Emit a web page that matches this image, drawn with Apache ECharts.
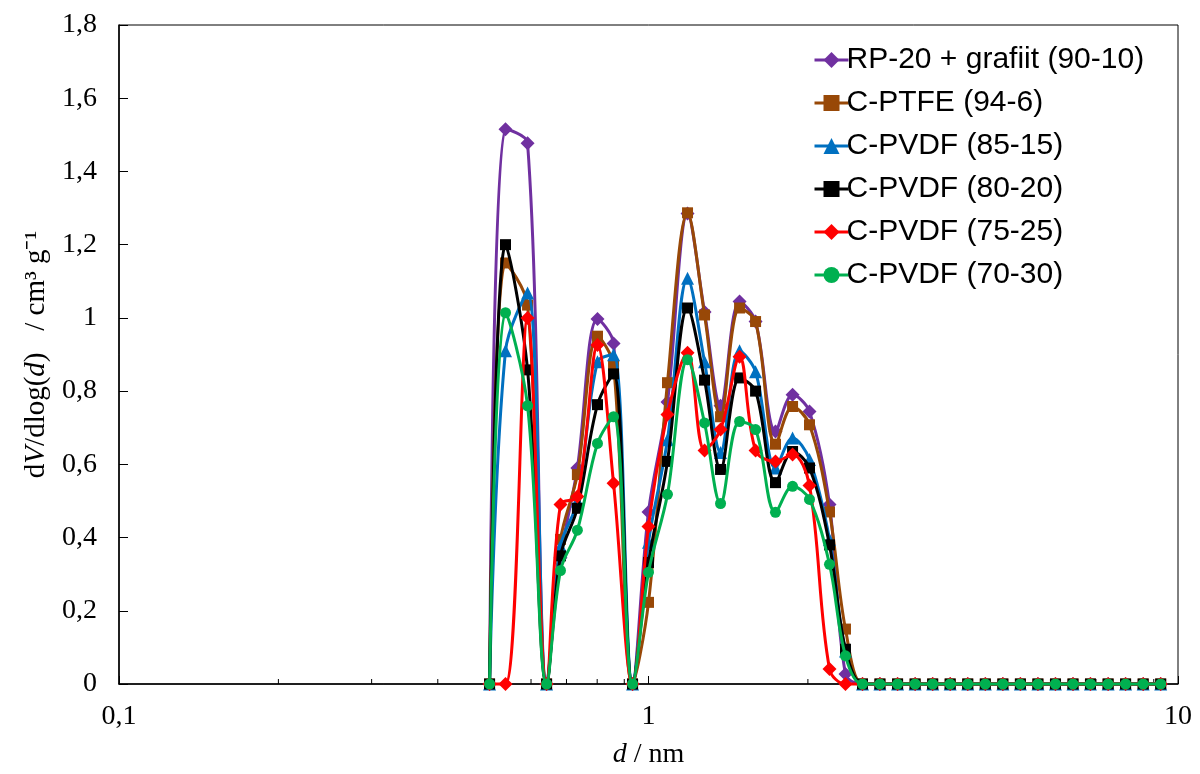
<!DOCTYPE html>
<html>
<head>
<meta charset="utf-8">
<title>Pore size distribution</title>
<script src="https://cdn.jsdelivr.net/npm/echarts@6/dist/echarts.min.js"></script>
<style>
  html, body { margin: 0; padding: 0; background: #fff; }
  #chart { width: 1200px; height: 774px; }
</style>
</head>
<body>
<div id="chart"></div>
<script>
// Pore diameter d / nm (shared by every sample)
const poreDiam = [
  0.501, 0.537, 0.591, 0.642, 0.682, 0.734, 0.801, 0.859, 0.933, 1.000,
  1.086, 1.185, 1.276, 1.368, 1.486, 1.593, 1.737, 1.871, 2.014, 2.197,
  2.355, 2.536, 2.736, 2.954, 3.188, 3.441, 3.713, 4.008, 4.326, 4.669,
  5.039, 5.438, 5.869, 6.334, 6.834, 7.379, 7.962, 8.594, 9.275
];

// dV/dlog(d) / cm3 g-1 for each electrode material
const rpGrafiit = [
  0, 1.515, 1.477, 0, 0.345, 0.59, 0.997, 0.93, 0, 0.47,
  0.77, 1.285, 1.016, 0.76, 1.045, 0.99, 0.69, 0.79, 0.744, 0.49,
  0.027, 0, 0, 0, 0, 0, 0, 0, 0, 0,
  0, 0, 0, 0, 0, 0, 0, 0, 0
];
const cPtfe94 = [
  0, 1.15, 1.035, 0, 0.395, 0.572, 0.95, 0.87, 0, 0.223,
  0.823, 1.287, 1.008, 0.73, 1.027, 0.99, 0.655, 0.758, 0.708, 0.47,
  0.15, 0, 0, 0, 0, 0, 0, 0, 0, 0,
  0, 0, 0, 0, 0, 0, 0, 0, 0
];
const cPvdf85 = [
  0, 0.91, 1.068, 0, 0.376, 0.5, 0.88, 0.899, 0, 0.387,
  0.667, 1.108, 0.88, 0.632, 0.91, 0.853, 0.59, 0.672, 0.613, 0.395,
  0.09, 0, 0, 0, 0, 0, 0, 0, 0, 0,
  0, 0, 0, 0, 0, 0, 0, 0, 0
];
const cPvdf80 = [
  0, 1.2, 0.858, 0, 0.35, 0.48, 0.763, 0.847, 0, 0.332,
  0.608, 1.027, 0.83, 0.586, 0.836, 0.80, 0.55, 0.635, 0.59, 0.38,
  0.095, 0, 0, 0, 0, 0, 0, 0, 0, 0,
  0, 0, 0, 0, 0, 0, 0, 0, 0
];
const cPvdf75 = [
  0, 0, 1.0, 0, 0.49, 0.512, 0.926, 0.548, 0, 0.43,
  0.736, 0.905, 0.638, 0.695, 0.894, 0.638, 0.608, 0.627, 0.542, 0.041,
  0, 0, 0, 0, 0, 0, 0, 0, 0, 0,
  0, 0, 0, 0, 0, 0, 0, 0, 0
];
const cPvdf70 = [
  0, 1.014, 0.76, 0, 0.31, 0.42, 0.657, 0.73, 0, 0.305,
  0.518, 0.886, 0.713, 0.493, 0.717, 0.695, 0.469, 0.54, 0.504, 0.327,
  0.077, 0, 0, 0, 0, 0, 0, 0, 0, 0,
  0, 0, 0, 0, 0, 0, 0, 0, 0
];

const seriesNames = [
  'RP-20 + grafiit (90-10)',
  'C-PTFE (94-6)',
  'C-PVDF (85-15)',
  'C-PVDF (80-20)',
  'C-PVDF (75-25)',
  'C-PVDF (70-30)'
];

// Minor ticks of the logarithmic diameter axis
const minorTicks = [0.2, 0.3, 0.4, 0.5, 0.6, 0.7, 0.8, 0.9, 2, 3, 4, 5, 6, 7, 8, 9];

const styles = [
  { color: '#7030A0', symbol: 'diamond', size: 14 },
  { color: '#984807', symbol: 'rect', size: 11 },
  { color: '#0070C0', symbol: 'triangle', size: 13 },
  { color: '#000000', symbol: 'rect', size: 11 },
  { color: '#FF0000', symbol: 'diamond', size: 14 },
  { color: '#00B050', symbol: 'circle', size: 11 }
];

const values = [rpGrafiit, cPtfe94, cPvdf85, cPvdf80, cPvdf75, cPvdf70];

const serif = 'Liberation Serif, Times New Roman, serif';
const commaNum = v => String(Math.round(v * 100) / 100).replace('.', ',');

const lineSeries = values.map((vals, i) => ({
  name: seriesNames[i],
  type: 'line',
  data: poreDiam.map((d, k) => [d, vals[k]]),
  smooth: 0.35,
  symbol: styles[i].symbol,
  symbolSize: styles[i].size,
  showAllSymbol: true,
  lineStyle: { color: styles[i].color, width: 3 },
  itemStyle: { color: styles[i].color, borderWidth: 0 },
  emphasis: { disabled: true },
  clip: false,
  z: 3 + i
}));

const chart = echarts.init(document.getElementById('chart'), null, { renderer: 'canvas' });

chart.setOption({
  animation: false,
  backgroundColor: '#ffffff',
  grid: {
    left: 119, right: 22, top: 25, bottom: 89,
    show: true, borderColor: '#000', borderWidth: 1, backgroundColor: 'transparent'
  },
  legend: {
    data: seriesNames,
    orient: 'vertical',
    left: 808,
    top: 40,
    itemWidth: 34,
    itemHeight: 20,
    itemGap: 13,
    lineStyle: { width: 3 },
    textStyle: {
      fontFamily: 'Liberation Sans, Arial, sans-serif',
      fontSize: 30,
      color: '#000',
      lineHeight: 28,
      padding: [0, 0, 0, -7]
    }
  },
  xAxis: {
    type: 'log',
    logBase: 10,
    min: 0.1,
    max: 10,
    name: '{i|d} / nm',
    nameLocation: 'middle',
    nameGap: 57,
    nameTextStyle: {
      fontFamily: serif,
      fontSize: 28,
      color: '#000',
      rich: {
        i: { fontFamily: serif, fontStyle: 'italic', fontSize: 28, color: '#000' }
      }
    },
    axisLine: { show: true, lineStyle: { color: '#000', width: 1.5 } },
    axisTick: { show: true, inside: true, length: 8, lineStyle: { color: '#000', width: 1 } },
    splitLine: { show: false },
    axisLabel: {
      margin: 19,
      fontFamily: serif,
      fontSize: 28,
      color: '#000',
      formatter: v => commaNum(v)
    }
  },
  yAxis: {
    type: 'value',
    min: 0,
    max: 1.8,
    interval: 0.2,
    name: 'd{i|V}/dlog({i|d})   / cm\u00B3 g\u207B\u00B9',
    nameLocation: 'middle',
    nameRotate: 90,
    nameGap: 68,
    nameTextStyle: {
      fontFamily: serif,
      fontSize: 29,
      color: '#000',
      rich: {
        i: { fontFamily: serif, fontStyle: 'italic', fontSize: 29, color: '#000' }
      }
    },
    axisLine: { show: true, lineStyle: { color: '#000', width: 1.5 } },
    axisTick: { show: true, inside: true, length: 9, lineStyle: { color: '#000', width: 1 } },
    splitLine: { show: false },
    axisLabel: {
      margin: 22,
      fontFamily: serif,
      fontSize: 28,
      color: '#000',
      formatter: v => commaNum(v)
    }
  },
  series: [
    {
      name: 'minor-ticks',
      type: 'custom',
      silent: true,
      z: 1,
      data: minorTicks.map(v => [v, 0]),
      renderItem: (params, api) => {
        const p = api.coord([api.value(0), 0]);
        return {
          type: 'line',
          shape: { x1: p[0], y1: p[1], x2: p[0], y2: p[1] - 5 },
          style: { stroke: '#000', lineWidth: 1 }
        };
      }
    },
    ...lineSeries
  ]
});
</script>
</body>
</html>
